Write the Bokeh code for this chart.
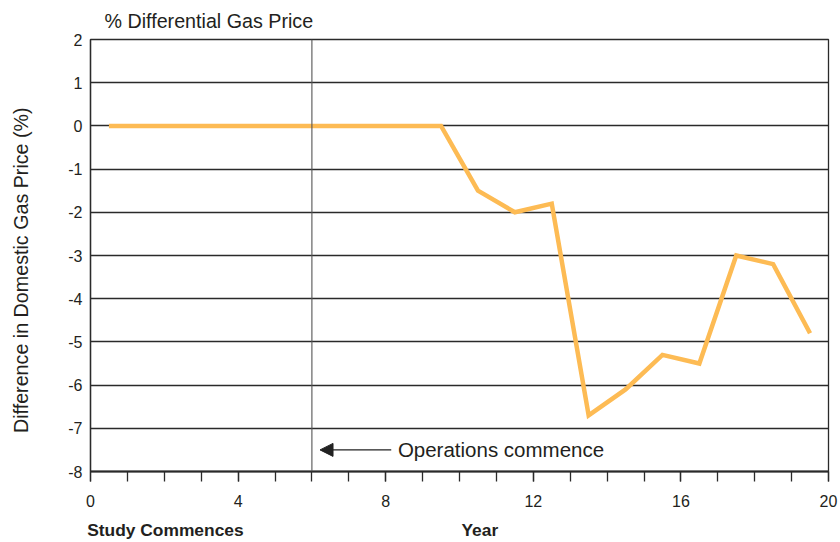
import math
from bokeh.plotting import figure
from bokeh.models import FixedTicker, Span, Label, Arrow, NormalHead, Range1d, LinearAxis
from bokeh.embed import file_html
from bokeh.resources import INLINE

# ---- data ----
years = [0.5, 1.5, 2.5, 3.5, 4.5, 5.5, 6.5, 7.5, 8.5, 9.5,
         10.5, 11.5, 12.5, 13.5, 14.5, 15.5, 16.5, 17.5, 18.5, 19.5]
diff_pct = [0, 0, 0, 0, 0, 0, 0, 0, 0, 0,
            -1.5, -2.0, -1.8, -6.7, -6.1, -5.3, -5.5, -3.0, -3.2, -4.8]
x_major_ticks = [0, 4, 8, 12, 16, 20]
x_minor_ticks = list(range(0, 21))
y_ticks = list(range(-8, 3))
operations_year = 6

FONT = "Liberation Sans"
TXT = "#231f20"
ORANGE = "#FDBB54"
GRID = "#2a2a2a"

p = figure(width=840, height=542, output_backend="svg", toolbar_location=None,
           x_range=Range1d(0, 20), y_range=Range1d(-8, 2),
           min_border_left=90, min_border_right=12, min_border_top=39,
           min_border_bottom=71)
p.background_fill_color = "white"
p.border_fill_color = "white"
p.outline_line_color = GRID
p.outline_line_width = 1.3

# title
p.title.text = "% Differential Gas Price"
p.title.align = "left"
p.title.offset = 14
p.title.text_font = FONT
p.title.text_font_size = "19.7px"
p.title.text_font_style = "normal"
p.title.text_color = TXT
p.title.standoff = 15

# grid
p.xgrid.visible = False
p.ygrid.ticker = FixedTicker(ticks=y_ticks)
p.ygrid.grid_line_color = GRID
p.ygrid.grid_line_width = 1.3
p.ygrid.grid_line_alpha = 1.0

# y axis
p.yaxis.ticker = FixedTicker(ticks=y_ticks)
p.yaxis.major_label_overrides = {t: str(t) for t in y_ticks}
p.yaxis.major_tick_out = 0
p.yaxis.major_tick_in = 0
p.yaxis.minor_tick_out = 0
p.yaxis.minor_tick_in = 0
p.yaxis.axis_line_color = GRID
p.yaxis.axis_line_width = 1.3
p.yaxis.major_label_standoff = 8
p.yaxis.major_label_text_font = FONT
p.yaxis.major_label_text_font_size = "16px"
p.yaxis.major_label_text_color = TXT

# y axis title (as a label-only axis so it can sit where the reference puts it)
ylab_pos = -3.34
ylab = LinearAxis(ticker=FixedTicker(ticks=[ylab_pos]),
                  major_label_overrides={ylab_pos: "Difference in Domestic Gas Price (%)"},
                  major_label_orientation="parallel",
                  axis_line_color=None, major_tick_line_color=None,
                  minor_tick_line_color=None,
                  major_label_standoff=27,
                  major_label_text_font=FONT, major_label_text_font_size="19.7px",
                  major_label_text_color=TXT)
p.add_layout(ylab, "left")

# x axis
p.xaxis.ticker = FixedTicker(ticks=x_major_ticks, minor_ticks=x_minor_ticks)
p.xaxis.major_tick_out = 10
p.xaxis.major_tick_in = 0
p.xaxis.minor_tick_out = 10
p.xaxis.minor_tick_in = 0
p.xaxis.major_tick_line_color = GRID
p.xaxis.minor_tick_line_color = GRID
p.xaxis.major_tick_line_width = 1.3
p.xaxis.minor_tick_line_width = 1.3
p.xaxis.axis_line_color = GRID
p.xaxis.axis_line_width = 2.2
p.xaxis.major_label_standoff = 13
p.xaxis.major_label_text_font = FONT
p.xaxis.major_label_text_font_size = "16px"
p.xaxis.major_label_text_color = TXT

# bottom texts (label-only axis)
study_pos, year_pos = 2.03, 10.55
xlab = LinearAxis(ticker=FixedTicker(ticks=[study_pos, year_pos]),
                  major_label_overrides={study_pos: "Study Commences", year_pos: "Year"},
                  axis_line_color=None, major_tick_line_color=None,
                  minor_tick_line_color=None,
                  major_label_standoff=4,
                  major_label_text_font=FONT, major_label_text_font_size="17.4px",
                  major_label_text_font_style="bold",
                  major_label_text_color=TXT)
p.add_layout(xlab, "below")

# operations commence line
p.add_layout(Span(location=operations_year, dimension="height",
                  line_color="#555555", line_width=1.1))

# data line
p.line(years, diff_pct, line_color=ORANGE, line_width=4.5, line_join="miter")

# annotation arrow + text
p.add_layout(Arrow(end=NormalHead(size=13, fill_color="#222222", line_color="#222222"),
                   x_start=8.15, y_start=-7.5, x_end=6.22, y_end=-7.5,
                   line_color="#222222", line_width=1.2))
p.add_layout(Label(x=8.33, y=-7.5, text="Operations commence", text_font=FONT,
                   text_font_size="20.5px", text_color=TXT, text_baseline="middle",
                   text_align="left"))

open("out.html", "w").write(file_html(p, INLINE))
